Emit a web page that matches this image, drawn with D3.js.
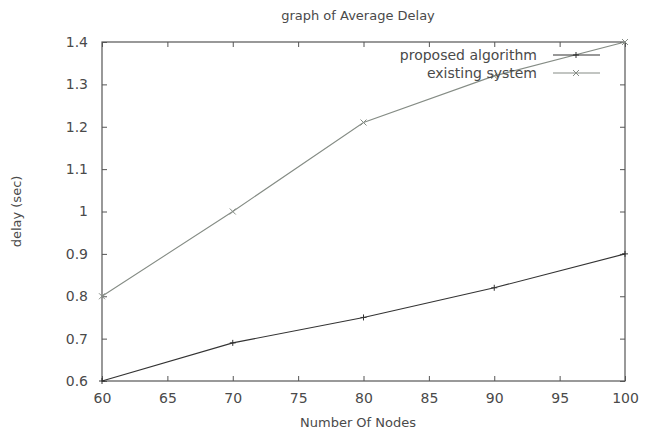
<!DOCTYPE html>
<html>
<head>
<meta charset="utf-8">
<script src="https://cdn.jsdelivr.net/npm/d3@7"></script>
<style>
  body { margin: 0; background: #fff; }
  text { font-family: "DejaVu Sans", sans-serif; fill: #4a4a4a; }
</style>
</head>
<body>
<script>
const nodes = [60, 70, 80, 90, 100];
const proposed = [0.6, 0.69, 0.75, 0.82, 0.9];
const existing = [0.8, 1.0, 1.21, 1.32, 1.4];
const xTicks = [60, 65, 70, 75, 80, 85, 90, 95, 100];
const yTicks = [0.6, 0.7, 0.8, 0.9, 1.0, 1.1, 1.2, 1.3, 1.4];

const width = 651, height = 435;
const margin = {top: 42, right: 26, bottom: 54, left: 102};

const svg = d3.select("body").append("svg")
    .attr("width", width)
    .attr("height", height);

const x = d3.scaleLinear().domain([60, 100]).range([margin.left, width - margin.right]);
const y = d3.scaleLinear().domain([0.6, 1.4]).range([height - margin.bottom, margin.top]);

const tick = 5;
const axisColor = "#555";

// gnuplot style: ticks inward on all four sides
function styleAxis(g) {
    g.select(".domain").remove();
    g.selectAll(".tick line").attr("stroke", axisColor);
    g.selectAll(".tick text").attr("font-size", 14).attr("fill", "#4a4a4a")
        .attr("font-family", "DejaVu Sans, sans-serif");
}

svg.append("g")
    .attr("transform", `translate(0,${y(0.6)})`)
    .call(d3.axisBottom(x).tickValues(xTicks).tickSize(-tick).tickPadding(12).tickFormat(d3.format("d")))
    .call(styleAxis);

svg.append("g")
    .attr("transform", `translate(0,${y(1.4)})`)
    .call(d3.axisTop(x).tickValues(xTicks).tickSize(-tick).tickFormat(""))
    .call(styleAxis);

svg.append("g")
    .attr("transform", `translate(${x(60)},0)`)
    .call(d3.axisLeft(y).tickValues(yTicks).tickSize(-tick).tickPadding(14).tickFormat(d => d === 1 ? "1" : d3.format(".1f")(d)))
    .call(styleAxis);

svg.append("g")
    .attr("transform", `translate(${x(100)},0)`)
    .call(d3.axisRight(y).tickValues(yTicks).tickSize(-tick).tickFormat(""))
    .call(styleAxis);

svg.append("rect")
    .attr("x", x(60)).attr("y", y(1.4))
    .attr("width", x(100) - x(60)).attr("height", y(0.6) - y(1.4))
    .attr("fill", "none").attr("stroke", axisColor).attr("stroke-width", 1.2);

const series = [
    {name: "proposed algorithm", values: proposed, color: "#333", marker: "plus"},
    {name: "existing system", values: existing, color: "#858c85", marker: "cross"}
];

const line = d3.line().x(d => x(d[0])).y(d => y(d[1]));

function markerPath(cx, cy, type) {
    const s = 3;
    if (type === "plus") return `M${cx - s},${cy}H${cx + s}M${cx},${cy - s}V${cy + s}`;
    return `M${cx - s},${cy - s}L${cx + s},${cy + s}M${cx - s},${cy + s}L${cx + s},${cy - s}`;
}

series.forEach(s => {
    const pts = nodes.map((n, i) => [n, s.values[i]]);
    svg.append("path")
        .datum(pts)
        .attr("fill", "none")
        .attr("stroke", s.color)
        .attr("stroke-width", 1.1)
        .attr("d", line);
    svg.selectAll(null)
        .data(pts)
        .enter()
        .append("path")
        .attr("d", d => markerPath(x(d[0]), y(d[1]), s.marker))
        .attr("stroke", s.color)
        .attr("stroke-width", 1);
});

// legend
const legend = svg.append("g");
series.forEach((s, i) => {
    const ly = 55 + i * 18;
    legend.append("text")
        .attr("x", 537).attr("y", ly).attr("dy", "0.35em")
        .attr("text-anchor", "end").attr("font-size", 14)
        .text(s.name);
    legend.append("line")
        .attr("x1", 553).attr("x2", 600).attr("y1", ly).attr("y2", ly)
        .attr("stroke", s.color).attr("stroke-width", 1.1);
    legend.append("path")
        .attr("d", markerPath(576, ly, s.marker))
        .attr("stroke", s.color).attr("stroke-width", 1);
});

svg.append("text")
    .attr("x", 358).attr("y", 20)
    .attr("text-anchor", "middle").attr("font-size", 13)
    .text("graph of Average Delay");

svg.append("text")
    .attr("x", 358).attr("y", 427)
    .attr("text-anchor", "middle").attr("font-size", 13)
    .text("Number Of Nodes");

svg.append("text")
    .attr("transform", `translate(21,${(y(0.6) + y(1.4)) / 2}) rotate(-90)`)
    .attr("text-anchor", "middle").attr("font-size", 13)
    .text("delay (sec)");
</script>
</body>
</html>
